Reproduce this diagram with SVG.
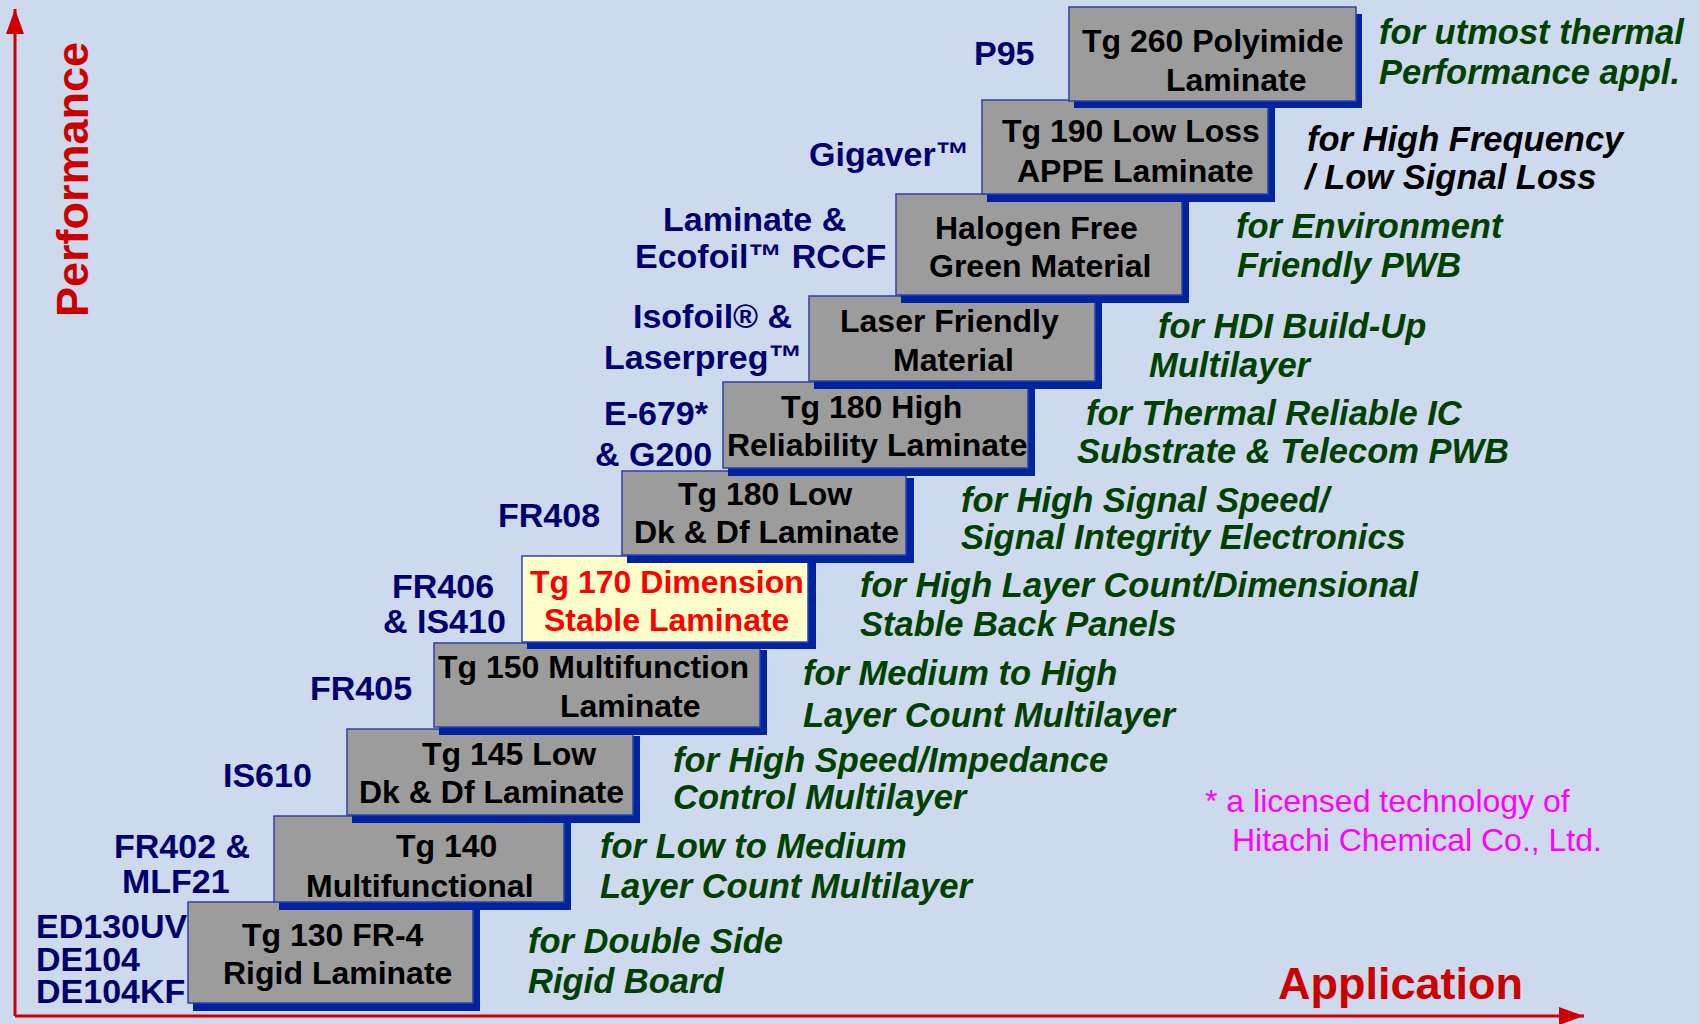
<svg xmlns="http://www.w3.org/2000/svg" width="1700" height="1024" viewBox="0 0 1700 1024">
<style>
.shadow{fill:#0023a0}
.face{fill:#9c9c9c;stroke:#3040a8;stroke-width:1.5}
.face.hl{fill:#ffffcc}
.bt{font-family:"Liberation Sans",Arial,sans-serif;font-weight:bold;font-size:32px;fill:#000}
.bt.red{fill:#ff0000}
.lbl{font-family:"Liberation Sans",Arial,sans-serif;font-weight:bold;font-size:34px;fill:#00006e}
.app{font-family:"Liberation Sans",Arial,sans-serif;font-weight:bold;font-style:italic;font-size:34.5px;fill:#004000}
.app.blk{fill:#000}
.axis{stroke:#cc0000;stroke-width:3;fill:none}
.axt{font-family:"Liberation Sans",Arial,sans-serif;font-weight:bold;font-size:45px;fill:#cc0000}
.note{font-family:"Liberation Sans",Arial,sans-serif;font-size:32px;fill:#ff00ff}
</style>
<defs>
<marker id="ah" markerUnits="userSpaceOnUse" markerWidth="26" markerHeight="18" refX="25" refY="9" orient="auto">
<path d="M0,0 L25,9 L0,18 z" fill="#cc0000"/>
</marker>
</defs>
<rect x="0" y="0" width="1700" height="1024" fill="#cdd9ec"/>

<g id="connectors">
<path class="axis" d="M15,1016 L15,9" marker-end="url(#ah)"/>
<path class="axis" d="M15,1016 L1584,1016" marker-end="url(#ah)"/>
</g>

<g id="axis-labels">
<text class="axt" transform="translate(88,317) rotate(-90)">Performance</text>
<text class="axt" x="1278" y="999">Application</text>
</g>

<g id="node-tg130">
<rect class="shadow" x="193" y="909" width="287" height="102"/>
<rect class="face" x="188" y="902" width="285" height="101"/>
<text class="bt" x="242" y="946">Tg 130 FR-4</text>
<text class="bt" x="223" y="984">Rigid Laminate</text>
</g>
<g id="node-tg140">
<rect class="shadow" x="279" y="823" width="292" height="87"/>
<rect class="face" x="274" y="816" width="290" height="86"/>
<text class="bt" x="396" y="857">Tg 140</text>
<text class="bt" x="306" y="897">Multifunctional</text>
</g>
<g id="node-tg145">
<rect class="shadow" x="352" y="736" width="288" height="87"/>
<rect class="face" x="347" y="729" width="286" height="86"/>
<text class="bt" x="422" y="765">Tg 145 Low</text>
<text class="bt" x="359" y="803">Dk &amp; Df Laminate</text>
</g>
<g id="node-tg150">
<rect class="shadow" x="439" y="650" width="328" height="85"/>
<rect class="face" x="434" y="643" width="326" height="84"/>
<text class="bt" x="438" y="678">Tg 150 Multifunction</text>
<text class="bt" x="560" y="717">Laminate</text>
</g>
<g id="node-tg170">
<rect class="shadow" x="527" y="563" width="289" height="86"/>
<rect class="face hl" x="522" y="556" width="286" height="86"/>
<text class="bt red" x="530" y="593">Tg 170 Dimension</text>
<text class="bt red" x="544" y="631">Stable Laminate</text>
</g>
<g id="node-tg180low">
<rect class="shadow" x="627" y="478" width="287" height="85"/>
<rect class="face" x="622" y="471" width="284" height="84"/>
<text class="bt" x="678" y="505">Tg 180 Low</text>
<text class="bt" x="634" y="543">Dk &amp; Df Laminate</text>
</g>
<g id="node-tg180high">
<rect class="shadow" x="728" y="389" width="307" height="87"/>
<rect class="face" x="723" y="382" width="305" height="86"/>
<text class="bt" x="781" y="418">Tg 180 High</text>
<text class="bt" x="727" y="456">Reliability Laminate</text>
</g>
<g id="node-laser">
<rect class="shadow" x="814" y="303" width="288" height="86"/>
<rect class="face" x="809" y="296" width="286" height="85"/>
<text class="bt" x="840" y="332">Laser Friendly</text>
<text class="bt" x="893" y="371">Material</text>
</g>
<g id="node-halogen">
<rect class="shadow" x="901" y="201" width="288" height="102"/>
<rect class="face" x="896" y="194" width="286" height="101"/>
<text class="bt" x="935" y="239">Halogen Free</text>
<text class="bt" x="929" y="277">Green Material</text>
</g>
<g id="node-tg190">
<rect class="shadow" x="987" y="107" width="288" height="95"/>
<rect class="face" x="982" y="100" width="286" height="94"/>
<text class="bt" x="1002" y="142">Tg 190 Low Loss</text>
<text class="bt" x="1017" y="182">APPE Laminate</text>
</g>
<g id="node-tg260">
<rect class="shadow" x="1074" y="14" width="288" height="94"/>
<rect class="face" x="1069" y="7" width="287" height="94"/>
<text class="bt" x="1082" y="52">Tg 260 Polyimide</text>
<text class="bt" x="1166" y="91">Laminate</text>
</g>

<g id="product-labels">
<text class="lbl" x="974" y="65">P95</text>
<text class="lbl" x="809" y="166">Gigaver™</text>
<text class="lbl" x="663" y="231">Laminate &amp;</text>
<text class="lbl" x="635" y="268">Ecofoil™ RCCF</text>
<text class="lbl" x="633" y="328">Isofoil® &amp;</text>
<text class="lbl" x="604" y="369">Laserpreg™</text>
<text class="lbl" x="604" y="425">E-679*</text>
<text class="lbl" x="595" y="466">&amp; G200</text>
<text class="lbl" x="498" y="527">FR408</text>
<text class="lbl" x="392" y="598">FR406</text>
<text class="lbl" x="383" y="633">&amp; IS410</text>
<text class="lbl" x="310" y="700">FR405</text>
<text class="lbl" x="223" y="787">IS610</text>
<text class="lbl" x="114" y="858">FR402 &amp;</text>
<text class="lbl" x="122" y="893">MLF21</text>
<text class="lbl" x="36" y="938">ED130UV</text>
<text class="lbl" x="36" y="971">DE104</text>
<text class="lbl" x="36" y="1003">DE104KF</text>
</g>

<g id="application-labels">
<text class="app" x="1379" y="44">for utmost thermal</text>
<text class="app" x="1379" y="84">Performance appl.</text>
<text class="app blk" x="1307" y="151">for High Frequency</text>
<text class="app blk" x="1305" y="189">/ Low Signal Loss</text>
<text class="app" x="1236" y="238">for Environment</text>
<text class="app" x="1237" y="277">Friendly PWB</text>
<text class="app" x="1158" y="338">for HDI Build-Up</text>
<text class="app" x="1149" y="377">Multilayer</text>
<text class="app" x="1086" y="425">for Thermal Reliable IC</text>
<text class="app" x="1077" y="463">Substrate &amp; Telecom PWB</text>
<text class="app" x="961" y="512">for High Signal Speed/</text>
<text class="app" x="961" y="549">Signal Integrity Electronics</text>
<text class="app" x="860" y="597">for High Layer Count/Dimensional</text>
<text class="app" x="860" y="636">Stable Back Panels</text>
<text class="app" x="803" y="685">for Medium to High</text>
<text class="app" x="803" y="727">Layer Count Multilayer</text>
<text class="app" x="673" y="772">for High Speed/Impedance</text>
<text class="app" x="673" y="809">Control Multilayer</text>
<text class="app" x="600" y="858">for Low to Medium</text>
<text class="app" x="600" y="898">Layer Count Multilayer</text>
<text class="app" x="528" y="953">for Double Side</text>
<text class="app" x="528" y="993">Rigid Board</text>
</g>

<g id="footnote">
<text class="note" x="1205" y="812">* a licensed technology of</text>
<text class="note" x="1232" y="851">Hitachi Chemical Co., Ltd.</text>
</g>
</svg>
